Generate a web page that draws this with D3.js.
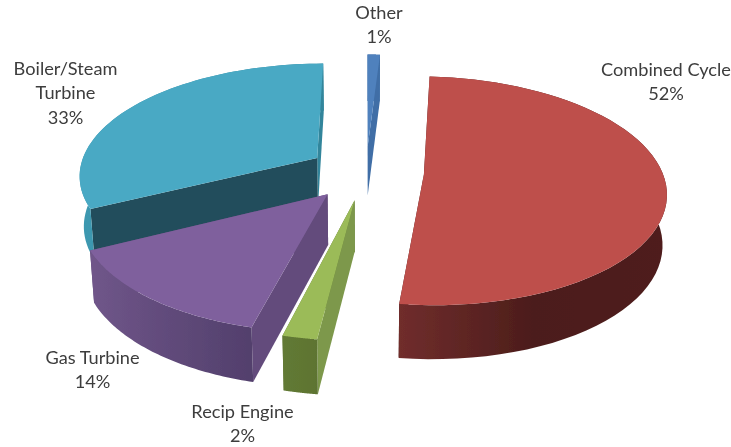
<!DOCTYPE html>
<html>
<head>
<meta charset="utf-8">
<style>
html,body{margin:0;padding:0;background:#fff;}
svg{display:block;}
text{font-family:Lato,"Open Sans",sans-serif;font-size:18.2px;fill:#3c3c3c;text-anchor:middle;}
</style>
<script src="https://cdn.jsdelivr.net/npm/d3@7/dist/d3.min.js"></script>
</head>
<body>
<svg id="chart" width="731" height="447"></svg>
<script>
// Data, in the pie's own clockwise order from twelve o'clock
const categories = ["Other", "Combined Cycle", "Recip Engine", "Gas Turbine", "Boiler/Steam Turbine"];
const shares = [1, 52, 2, 14, 33];
const explosions = [0.24, 0.243, 0.25, 0.25, 0.245];

// Colours
const topColors = ["#4f81bd", "#be4f4c", "#9bbb59", "#7f619d", "#4aa9c4"];
const startWallColors = ["#3f6ea6", "#4f1f1d", "#7d984b", "#644c7c", "#234e5b"];
const endWallColors = ["#3f6ea6", "#4f1f1d", "#5f7533", "#644c7c", "#31859b"];
const rimLeftColors = ["#3f6ea6", "#702d2c", "#627a35", "#70568a", "#3c98b0"];
const rimMidColors = ["#3f6ea6", "#4c1d1b", "#607733", "#604a7a", "#3a93ab"];
const rimRightColors = ["#3f6ea6", "#4f1f1d", "#5d7332", "#523f6c", "#31859b"];

const width = 731, height = 447;
const svg = d3.select("#chart");

// Perspective model of the tilted pie
const persp = 0.142;
const xTop = d3.scaleLinear().domain([-1, 1]).range([366 - 238.5, 366 + 238.5]);
const yTop = d3.scaleLinear().domain([-1, 1]).range([172 + 111.4, 172 - 111.4]);
const xBot = d3.scaleLinear().domain([-1, 1]).range([366 - 235, 366 + 235]);
const yBot = d3.scaleLinear().domain([-1, 1]).range([222 + 114.7, 222 - 114.7]);

function project(px, py, level) {
  const w = 1 + persp * py;
  return level === 0 ? [xTop(px / w), yTop(py / w)] : [xBot(px / w), yBot(py / w)];
}

const pieLayout = d3.pie().sort(null).value(d => d).startAngle(0).endAngle(2 * Math.PI);
const arcs = pieLayout(shares);
const line = d3.line();

const defs = svg.append("defs");
const blur = defs.append("filter").attr("id", "soft")
  .attr("x", "-5%").attr("y", "-5%").attr("width", "110%").attr("height", "110%");
blur.append("feGaussianBlur").attr("stdDeviation", 0.45);

const pieGroup = svg.append("g").attr("filter", "url(#soft)");

// Back-to-front painting order
const paintOrder = [0, 4, 3, 2, 1];

paintOrder.forEach(i => {
  const a = arcs[i];
  const mid = (a.startAngle + a.endAngle) / 2;
  const ox = explosions[i] * Math.sin(mid), oy = explosions[i] * Math.cos(mid);
  const steps = d3.range(0, 61).map(k => a.startAngle + (a.endAngle - a.startAngle) * k / 60);
  const rim = level => steps.map(t => project(ox + Math.sin(t), oy + Math.cos(t), level));
  const apex = level => project(ox, oy, level);

  const rimTop = rim(0), rimBot = rim(1);

  const gradId = "rim" + i;
  const g = defs.append("linearGradient").attr("id", gradId).attr("x1", 0).attr("x2", 1).attr("y1", 0).attr("y2", 0);
  g.append("stop").attr("offset", 0).attr("stop-color", rimLeftColors[i]);
  g.append("stop").attr("offset", 0.5).attr("stop-color", rimMidColors[i]);
  g.append("stop").attr("offset", 1).attr("stop-color", rimRightColors[i]);

  // radial walls: the far side first, so the side facing the viewer stays on top
  pieGroup.append("path")
    .attr("d", line([apex(0), rimTop[60], rimBot[60], apex(1)]) + "Z")
    .attr("fill", endWallColors[i]);
  pieGroup.append("path")
    .attr("d", line([apex(0), rimTop[0], rimBot[0], apex(1)]) + "Z")
    .attr("fill", startWallColors[i]);
  // outer rim wall
  pieGroup.append("path")
    .attr("d", line(rimTop.concat(rimBot.slice().reverse())) + "Z")
    .attr("fill", "url(#" + gradId + ")");
  // top face
  pieGroup.append("path")
    .attr("d", line([apex(0)].concat(rimTop)) + "Z")
    .attr("fill", topColors[i]);
});

// Labels
const labelLines = [
  ["Other", "1%"],
  ["Combined Cycle", "52%"],
  ["Recip Engine", "2%"],
  ["Gas Turbine", "14%"],
  ["Boiler/Steam", "Turbine", "33%"]
];
const labelAnchors = [[379, 19], [666, 76], [242.5, 418], [92.5, 364], [65.5, 75]];
const labelGroup = svg.append("g").attr("filter", "url(#soft)");
labelLines.forEach((rows, i) => {
  rows.forEach((row, r) => {
    labelGroup.append("text")
      .attr("x", labelAnchors[i][0])
      .attr("y", labelAnchors[i][1] + r * 24.3)
      .text(row);
  });
});
</script>
</body>
</html>
